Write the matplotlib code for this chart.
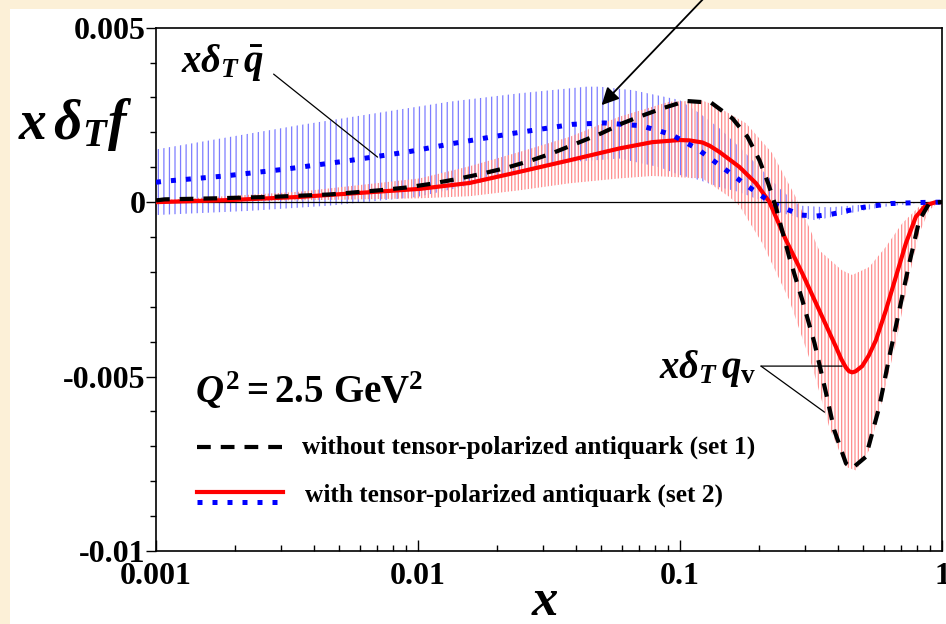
import numpy as np
import matplotlib
matplotlib.use("Agg")
import matplotlib.pyplot as plt
from matplotlib.patches import Rectangle
from matplotlib.lines import Line2D
from matplotlib.ticker import FixedLocator, FixedFormatter, NullFormatter

# values, y in units of 1e-3

# set 1: x dT q_v without tensor-polarized antiquark (black dashed)
x_set1 = [0.001, 0.00108, 0.0017, 0.00272, 0.0046, 0.00714, 0.00903, 0.0111, 0.0138, 0.0172,
          0.0214, 0.0267, 0.0327, 0.0402, 0.0500, 0.0603, 0.0700, 0.0857, 0.1055, 0.1315,
          0.1585, 0.181, 0.201, 0.217, 0.232, 0.261, 0.293, 0.326, 0.361, 0.388,
          0.430, 0.454, 0.512, 0.576, 0.629, 0.687, 0.750, 0.819, 0.894, 0.975, 1.0]
qv_set1 = [0.05, 0.08, 0.11, 0.15, 0.22, 0.34, 0.42, 0.52, 0.65, 0.80,
           0.97, 1.18, 1.41, 1.68, 1.97, 2.26, 2.45, 2.69, 2.90, 2.85,
           2.40, 1.87, 1.20, 0.54, -0.13, -1.57, -2.81, -4.04, -5.48, -6.54,
           -7.49, -7.63, -7.30, -5.87, -4.44, -3.10, -1.75, -0.52, -0.03, 0.0, 0.0]

# set 2: x dT q_v with tensor-polarized antiquark (red solid)
x_set2 = [0.001, 0.00192, 0.00354, 0.01015, 0.01575, 0.02443, 0.03789, 0.05877, 0.07847, 0.09951,
          0.1086, 0.1217, 0.1295, 0.1413, 0.1684, 0.1950, 0.2192, 0.2538, 0.2928, 0.3399,
          0.3937, 0.4125, 0.4297, 0.442, 0.4543, 0.468, 0.4959, 0.525, 0.5593, 0.6105,
          0.6667, 0.7278, 0.7945, 0.8672, 0.9471, 1.0]
qv_set2 = [0.0, 0.06, 0.15, 0.38, 0.55, 0.87, 1.20, 1.54, 1.72, 1.78,
           1.77, 1.71, 1.62, 1.44, 1.01, 0.54, 0.01, -1.09, -2.04, -3.10,
           -4.15, -4.50, -4.74, -4.85, -4.88, -4.85, -4.70, -4.40, -3.96, -3.10,
           -2.14, -1.18, -0.42, -0.09, 0.0, 0.0]

# set 2 q_v uncertainty band
x_qv_up = [0.001, 0.00354, 0.01015, 0.01575, 0.02443, 0.03789, 0.05877, 0.0911, 0.1217, 0.1356,
           0.1786, 0.2251, 0.2781, 0.3399, 0.4143, 0.4543, 0.5275, 0.6105, 0.7046, 0.8177,
           0.9168, 1.0]
qv_up = [0.05, 0.30, 0.68, 1.03, 1.44, 1.87, 2.45, 2.88, 2.91, 2.78,
         2.26, 1.40, 0.11, -1.38, -1.95, -2.09, -1.86, -1.28, -0.61, -0.13,
         0.0, 0.0]
x_qv_lo = [0.001, 0.00354, 0.01015, 0.01575, 0.02443, 0.03789, 0.05877, 0.0785, 0.1217, 0.1356,
           0.1543, 0.1684, 0.2062, 0.2613, 0.3197, 0.3712, 0.4297, 0.4692, 0.5275, 0.5910,
           0.6667, 0.749, 0.8177, 0.893, 0.975, 1.0]
qv_lo = [0.0, 0.05, 0.11, 0.17, 0.34, 0.54, 0.68, 0.75, 0.68, 0.44,
         0.15, -0.10, -1.18, -2.81, -4.72, -6.45, -7.59, -7.69, -7.11, -5.68,
         -4.04, -2.14, -0.90, -0.23, 0.0, 0.0]

# set 2: x dT qbar (blue dotted)
x_qbar = [0.001, 0.00108, 0.00183, 0.00315, 0.00533, 0.00914, 0.01356, 0.02297, 0.0389, 0.05149,
          0.07108, 0.0925, 0.1168, 0.1455, 0.1811, 0.2256, 0.2895, 0.3304, 0.3767, 0.4903,
          0.6377, 0.8301, 1.0]
qbar = [0.57, 0.60, 0.75, 0.95, 1.18, 1.44, 1.68, 1.97, 2.23, 2.27,
        2.19, 1.94, 1.52, 0.99, 0.46, -0.04, -0.37, -0.40, -0.35, -0.16,
        -0.04, -0.01, 0.0]

# set 2 qbar uncertainty band
x_qbar_up = [0.001, 0.00354, 0.01321, 0.02441, 0.04397, 0.04928, 0.06584, 0.0995, 0.1186, 0.1413,
             0.1684, 0.2008, 0.2393, 0.2852, 0.3712, 0.4831, 0.6863, 1.0]
qbar_up = [1.51, 2.21, 2.88, 3.12, 3.31, 3.31, 3.21, 2.93, 2.55, 2.12,
           1.58, 1.0, 0.4, -0.10, -0.15, -0.08, -0.02, 0.0]
x_qbar_lo = [0.001, 0.00228, 0.00461, 0.00998, 0.01718, 0.02441, 0.03789, 0.05877, 0.0835, 0.0995,
             0.1186, 0.1413, 0.1684, 0.2008, 0.2393, 0.2852, 0.3311, 0.4423, 0.591, 0.7966, 1.0]
qbar_lo = [-0.37, -0.25, -0.10, 0.15, 0.55, 0.85, 1.15, 1.25, 1.0, 0.78,
           0.63, 0.43, 0.29, 0.06, -0.29, -0.45, -0.52, -0.32, -0.14, -0.03, 0.0]

x_ticks = [0.001, 0.01, 0.1, 1]
x_ticklabels = ["0.001", "0.01", "0.1", "1"]
y_ticks = [0.005, 0.0, -0.005, -0.01]
y_ticklabels = ["0.005", "0", "-0.005", "-0.01"]

plt.rcParams["font.family"] = ["Liberation Serif", "DejaVu Serif"]
plt.rcParams["font.weight"] = "bold"
plt.rcParams["mathtext.fontset"] = "custom"
plt.rcParams["mathtext.rm"] = "Liberation Serif:bold"
plt.rcParams["mathtext.bf"] = "Liberation Serif:bold"
plt.rcParams["mathtext.it"] = "Liberation Serif:italic:bold"
plt.rcParams["hatch.linewidth"] = 0.9
plt.rcParams["axes.unicode_minus"] = False

s = 1e-3
fig = plt.figure(figsize=(9.46, 6.24), dpi=100, facecolor="#FCF0D7")
fig.patches.append(Rectangle((0.0106, 0), 0.9894, 0.9856, transform=fig.transFigure,
                             facecolor="white", edgecolor="none", zorder=-10))
ax = fig.add_axes([0.1649, 0.117, 0.8309, 0.8386])
ax.set_facecolor("white")

# uncertainty bands, vertical hatching
bx = list(x_qbar_up) + list(x_qbar_lo)[::-1]
by = [v * s for v in qbar_up] + [v * s for v in qbar_lo][::-1]
ax.fill(bx, by, facecolor="none", edgecolor="#7C7CFF", hatch="|||", linewidth=0, zorder=1)
rx = list(x_qv_up) + list(x_qv_lo)[::-1]
ry = [v * s for v in qv_up] + [v * s for v in qv_lo][::-1]
ax.fill(rx, ry, facecolor="none", edgecolor="#FF8C8C", hatch="|||||", linewidth=0, zorder=2)

ax.axhline(0, color="black", lw=0.9, zorder=3)

ax.plot(x_set2, np.array(qv_set2) * s, color="red", lw=3, solid_capstyle="round",
        solid_joinstyle="round", zorder=4)
ax.plot(x_qbar, np.array(qbar) * s, color="blue", lw=3.6, dashes=(1, 2),
        dash_capstyle="butt", zorder=5)
ax.plot(x_set1, np.array(qv_set1) * s, color="black", lw=3, dashes=(3.3, 2.4),
        dash_capstyle="butt", zorder=6)

ax.set_xscale("log")
ax.set_xlim(0.001, 1)
ax.set_ylim(-0.01, 0.005)
ax.xaxis.set_major_locator(FixedLocator(x_ticks))
ax.xaxis.set_major_formatter(FixedFormatter(x_ticklabels))
ax.xaxis.set_minor_formatter(NullFormatter())
ax.yaxis.set_major_locator(FixedLocator(y_ticks))
ax.yaxis.set_major_formatter(FixedFormatter(y_ticklabels))
ax.yaxis.set_minor_locator(FixedLocator(np.arange(-0.01, 0.0051, 0.001)))
ax.tick_params(axis="x", which="major", direction="in", length=8, width=1, labelsize=23, pad=8)
ax.tick_params(axis="x", which="minor", direction="in", length=4, width=1)
ax.tick_params(axis="y", which="major", direction="out", length=7, width=1, labelsize=23, pad=0.5)
ax.tick_params(axis="y", which="minor", direction="out", length=4, width=1)
for lab in ax.get_xticklabels() + ax.get_yticklabels():
    lab.set_fontweight("bold")
for sp in ax.spines.values():
    sp.set_linewidth(1.2)

# axis titles
fig.text(0.079, 0.80, r"$x\,\delta_T f$", fontsize=40, ha="center", va="center")
fig.text(0.576, 0.036, r"$x$", fontsize=38, ha="center", va="center")

# curve labels
ax.annotate(r"$x\delta_T\,\bar{q}$", xy=(0.00701, 1.29e-3), xytext=(0.0018, 4.0e-3),
            fontsize=28, ha="center", va="center",
            arrowprops=dict(arrowstyle="-", color="black", lw=0.9, shrinkA=6, shrinkB=0,
                            relpos=(1.0, 0.4)))
ax.text(0.196, -4.78e-3, r"$x\delta_T\,q_{\mathrm{v}}$", fontsize=28, ha="right", va="center")
ax.annotate("", xy=(0.416, -4.70e-3), xytext=(0.2037, -4.70e-3),
            arrowprops=dict(arrowstyle="-", color="black", lw=0.9, shrinkA=0, shrinkB=0))
ax.annotate("", xy=(0.356, -6.02e-3), xytext=(0.2037, -4.70e-3),
            arrowprops=dict(arrowstyle="-", color="black", lw=0.9, shrinkA=0, shrinkB=0))
ax.annotate("", xy=(0.0502, 2.78e-3), xytext=(0.1272, 5.95e-3), annotation_clip=False,
            arrowprops=dict(arrowstyle="-|>", color="black", lw=1.3, mutation_scale=26,
                            shrinkA=0, shrinkB=0))

ax.text(0.05, 0.305, r"$Q^2 = 2.5\ \mathrm{GeV}^2$", transform=ax.transAxes,
        fontsize=28, ha="left", va="center")

# legend drawn by hand
ax.add_line(Line2D([0.052, 0.164], [0.199, 0.199], transform=ax.transAxes, color="black",
                   lw=3, dashes=(3.3, 2.4), dash_capstyle="butt"))
ax.text(0.186, 0.199, "without tensor-polarized antiquark (set 1)", transform=ax.transAxes,
        fontsize=18.3, fontweight="bold", ha="left", va="center")
ax.add_line(Line2D([0.052, 0.162], [0.1127, 0.1127], transform=ax.transAxes, color="red", lw=3))
ax.add_line(Line2D([0.052, 0.162], [0.0936, 0.0936], transform=ax.transAxes, color="blue",
                   lw=3.6, dashes=(1, 2), dash_capstyle="butt"))
ax.text(0.19, 0.107, "with tensor-polarized antiquark (set 2)", transform=ax.transAxes,
        fontsize=18.3, fontweight="bold", ha="left", va="center")

fig.savefig("out.png", dpi=100, facecolor=fig.get_facecolor())
